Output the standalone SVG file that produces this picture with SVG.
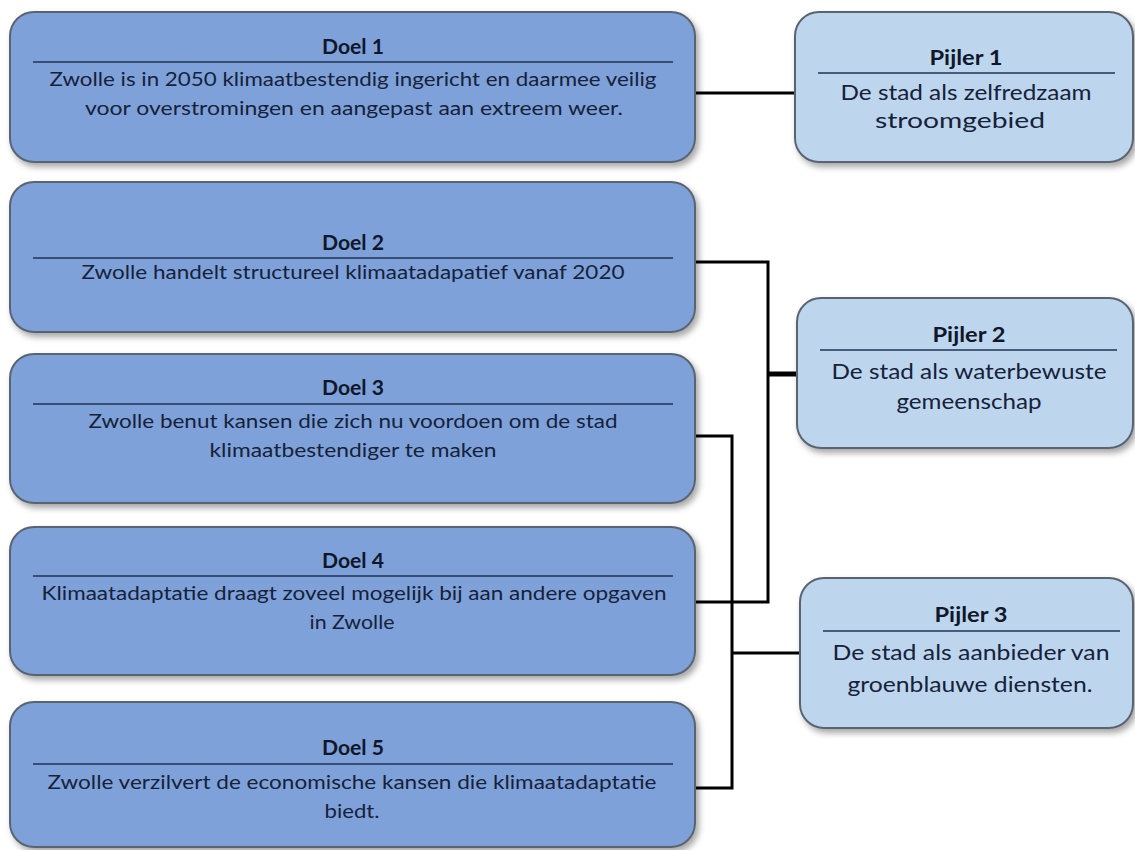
<svg xmlns="http://www.w3.org/2000/svg" width="1135" height="850" viewBox="0 0 1135 850">
  <style>
    .doel { fill: #7fa1d9; stroke: #5a6470; stroke-width: 2; }
    .pijler { fill: #bdd6ee; stroke: #5a6470; stroke-width: 2; }
    .rule { stroke: #1f3354; stroke-width: 1.6; }
    .title { font-family: Lato, "Liberation Sans", sans-serif; font-weight: bold; font-size: 20px; fill: #10172a; text-anchor: middle; }
    .ptitle { font-family: Lato, "Liberation Sans", sans-serif; font-weight: bold; font-size: 21px; fill: #10172a; text-anchor: middle; }
    .body { font-family: Lato, "Liberation Sans", sans-serif; font-size: 19.5px; fill: #16213a; text-anchor: middle; }
    .pbody { font-family: Lato, "Liberation Sans", sans-serif; font-size: 21.5px; fill: #16213a; text-anchor: middle; }
    .link { fill: none; stroke: #000; stroke-width: 3; }
  </style>
  <defs>
    <filter id="shadow" x="-5%" y="-10%" width="115%" height="130%">
      <feDropShadow dx="3" dy="4" stdDeviation="3" flood-color="#000" flood-opacity="0.35"/>
    </filter>
  </defs>
  <rect width="1135" height="850" fill="#fff"/>

  <!-- connectors -->
  <g id="connectors">
    <path class="link" d="M695,93 H795"/>
    <path class="link" d="M695,262 H768 V602 H695"/>
    <path class="link" d="M768,374 H797" style="stroke-width:5"/>
    <path class="link" d="M695,436 H732 V788 H695"/>
    <path class="link" d="M732,653 H800"/>
  </g>

  <!-- goals -->
  <g id="doel1">
    <rect class="doel" x="10" y="12" width="685" height="150" rx="24" filter="url(#shadow)"/>
    <text class="title" x="353" y="54" textLength="62" lengthAdjust="spacingAndGlyphs">Doel 1</text>
    <line class="rule" x1="33" y1="62" x2="673" y2="62"/>
    <text class="body" x="353" y="86" textLength="607" lengthAdjust="spacingAndGlyphs">Zwolle is in 2050 klimaatbestendig ingericht en daarmee veilig</text>
    <text class="body" x="354" y="115" textLength="538" lengthAdjust="spacingAndGlyphs">voor overstromingen en aangepast aan extreem weer.</text>
  </g>
  <g id="doel2">
    <rect class="doel" x="10" y="182" width="685" height="150" rx="24" filter="url(#shadow)"/>
    <text class="title" x="353" y="250" textLength="62" lengthAdjust="spacingAndGlyphs">Doel 2</text>
    <line class="rule" x1="33" y1="258" x2="673" y2="258"/>
    <text class="body" x="353" y="279" textLength="543" lengthAdjust="spacingAndGlyphs">Zwolle handelt structureel klimaatadapatief vanaf 2020</text>
  </g>
  <g id="doel3">
    <rect class="doel" x="10" y="354" width="685" height="149" rx="24" filter="url(#shadow)"/>
    <text class="title" x="353" y="395" textLength="62" lengthAdjust="spacingAndGlyphs">Doel 3</text>
    <line class="rule" x1="33" y1="404" x2="673" y2="404"/>
    <text class="body" x="353" y="428" textLength="529" lengthAdjust="spacingAndGlyphs">Zwolle benut kansen die zich nu voordoen om de stad</text>
    <text class="body" x="353" y="457" textLength="287" lengthAdjust="spacingAndGlyphs">klimaatbestendiger te maken</text>
  </g>
  <g id="doel4">
    <rect class="doel" x="10" y="527" width="685" height="148" rx="24" filter="url(#shadow)"/>
    <text class="title" x="353" y="568" textLength="62" lengthAdjust="spacingAndGlyphs">Doel 4</text>
    <line class="rule" x1="33" y1="576" x2="673" y2="576"/>
    <text class="body" x="354" y="600" textLength="625" lengthAdjust="spacingAndGlyphs">Klimaatadaptatie draagt zoveel mogelijk bij aan andere opgaven</text>
    <text class="body" x="352" y="629" textLength="85" lengthAdjust="spacingAndGlyphs">in Zwolle</text>
  </g>
  <g id="doel5">
    <rect class="doel" x="10" y="702" width="685" height="145" rx="24" filter="url(#shadow)"/>
    <text class="title" x="353" y="755" textLength="62" lengthAdjust="spacingAndGlyphs">Doel 5</text>
    <line class="rule" x1="33" y1="764" x2="673" y2="764"/>
    <text class="body" x="352" y="789" textLength="609" lengthAdjust="spacingAndGlyphs">Zwolle verzilvert de economische kansen die klimaatadaptatie</text>
    <text class="body" x="352" y="818" textLength="55" lengthAdjust="spacingAndGlyphs">biedt.</text>
  </g>

  <!-- pillars -->
  <g id="pijler1">
    <rect class="pijler" x="795" y="12" width="338" height="150" rx="24" filter="url(#shadow)"/>
    <text class="ptitle" x="966" y="65" textLength="73" lengthAdjust="spacingAndGlyphs">Pijler 1</text>
    <line class="rule" x1="818" y1="73" x2="1115" y2="73"/>
    <text class="pbody" x="966" y="100" textLength="251" lengthAdjust="spacingAndGlyphs">De stad als zelfredzaam</text>
    <text class="pbody" x="960" y="128" textLength="170" lengthAdjust="spacingAndGlyphs">stroomgebied</text>
  </g>
  <g id="pijler2">
    <rect class="pijler" x="797" y="298" width="336" height="150" rx="24" filter="url(#shadow)"/>
    <text class="ptitle" x="969" y="342" textLength="73" lengthAdjust="spacingAndGlyphs">Pijler 2</text>
    <line class="rule" x1="820" y1="350" x2="1117" y2="350"/>
    <text class="pbody" x="969" y="379" textLength="275" lengthAdjust="spacingAndGlyphs">De stad als waterbewuste</text>
    <text class="pbody" x="969" y="409" textLength="145" lengthAdjust="spacingAndGlyphs">gemeenschap</text>
  </g>
  <g id="pijler3">
    <rect class="pijler" x="800" y="578" width="333" height="150" rx="24" filter="url(#shadow)"/>
    <text class="ptitle" x="971" y="622" textLength="73" lengthAdjust="spacingAndGlyphs">Pijler 3</text>
    <line class="rule" x1="823" y1="631" x2="1120" y2="631"/>
    <text class="pbody" x="971" y="660" textLength="277" lengthAdjust="spacingAndGlyphs">De stad als aanbieder van</text>
    <text class="pbody" x="970" y="692" textLength="245" lengthAdjust="spacingAndGlyphs">groenblauwe diensten.</text>
  </g>
</svg>
